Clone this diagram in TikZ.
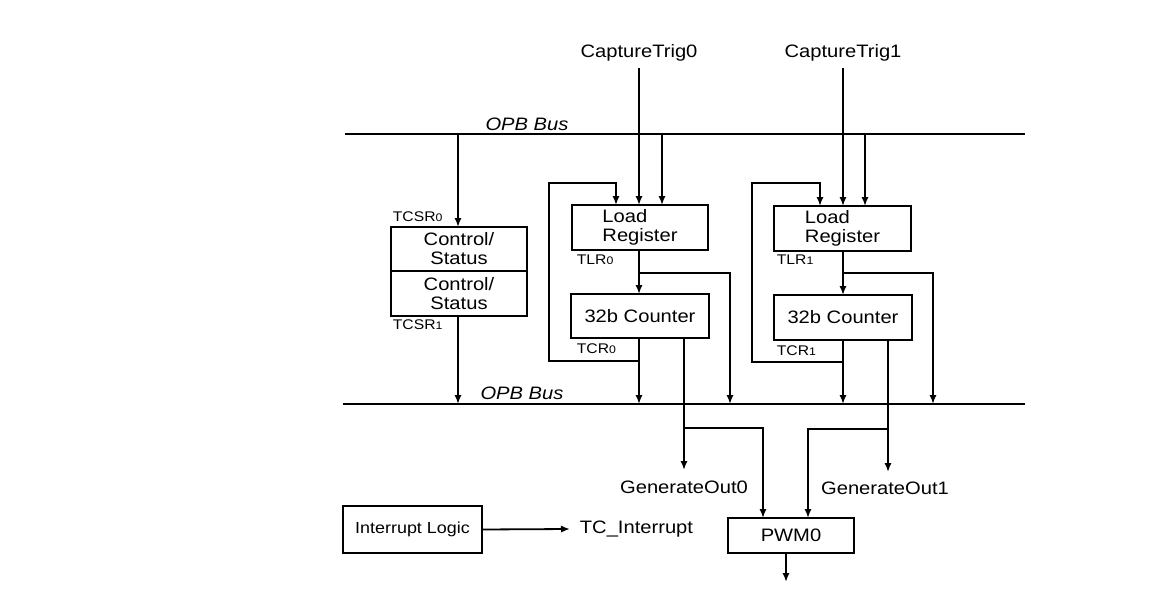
\documentclass[tikz,border=0pt]{standalone}
\usepackage{fontspec}
\setmainfont{Liberation Sans}[FakeStretch=1.12]
\usetikzlibrary{arrows.meta}
\newcommand\sdig[1]{{\fontsize{5.5}{6}\selectfont #1}}
\begin{document}
\begin{tikzpicture}[x=0.5pt,y=-0.5pt,
  line width=0.9pt,
  arr/.style={-{Latex[length=4.5pt,width=3.6pt]}},
  blk/.style={draw, rectangle, inner sep=0pt, outer sep=0pt, font=\fontsize{9}{9.5}\selectfont, align=center},
  lbl/.style={inner sep=0pt, font=\fontsize{9}{10}\selectfont},
  reg/.style={inner sep=0pt, anchor=west, font=\fontsize{7}{8}\selectfont},
  busline/.style={line width=1.1pt}]
\useasboundingbox[fill=white] (0,0) rectangle (1152,589);

% buses
\coordinate (bus1L) at (345,134);
\coordinate (bus1R) at (1025,134);
\coordinate (bus2L) at (343,404);
\coordinate (bus2R) at (1025,404);
\draw[busline] (bus1L) -- (bus1R);
\draw[busline] (bus2L) -- (bus2R);
\node[lbl, font=\fontsize{9}{10}\itshape] (opb1) at (527,124) {OPB Bus};
\node[lbl, font=\fontsize{9}{10}\itshape] (opb2) at (522,393) {OPB Bus};

% capture triggers
\node[lbl] (ct0) at (639,53) {CaptureTrig0};
\node[lbl] (ct1) at (843,53) {CaptureTrig1};

% control / status
\node[blk, minimum width=68pt, minimum height=22pt] (cs0) at (459,249) {Control/\\Status};
\node[blk, minimum width=68pt, minimum height=22.5pt, anchor=north] (cs1) at (cs0.south) {Control/\\Status};
\node[reg] (tcsr0) at (392,217) {TCSR\sdig{0}};
\node[reg] (tcsr1) at (392,325) {TCSR\sdig{1}};

% timer 0
\node[blk, minimum width=68pt, minimum height=22.5pt, align=left] (lr0) at (640,227.5) {Load\\Register};
\node[blk, minimum width=69pt, minimum height=22pt] (cnt0) at (640,316) {32b Counter};
\node[reg] (tlr0) at (576,260) {TLR\sdig{0}};
\node[reg] (tcr0) at (576,349) {TCR\sdig{0}};

% timer 1
\node[blk, minimum width=68.5pt, minimum height=22.5pt, align=left] (lr1) at (842.5,228.5) {Load\\Register};
\node[blk, minimum width=69pt, minimum height=22.5pt] (cnt1) at (843,317.5) {32b Counter};
\node[reg] (tlr1) at (776,260) {TLR\sdig{1}};
\node[reg] (tcr1) at (776,351) {TCR\sdig{1}};

% outputs
\node[lbl] (go0) at (684,487) {GenerateOut0};
\node[lbl] (go1) at (885,488) {GenerateOut1};
\node[blk, minimum width=63pt, minimum height=17.5pt] (pwm) at (791,535.5) {PWM0};
\node[blk, minimum width=69.5pt, minimum height=23.5pt, font=\fontsize{8}{9}\selectfont] (il) at (412.5,529.5) {Interrupt Logic};
\node[lbl, anchor=west] (tci) at (579,529) {TC\_Interrupt};
\coordinate (pwmout) at (786,582);

% junction coordinates
\coordinate (b1a) at (458,134);
\coordinate (b1b) at (662,134);
\coordinate (b1c) at (865,134);
\coordinate (fb0) at (639,361);
\coordinate (fb1) at (843,362);
\coordinate (j0) at (639,273);
\coordinate (j1) at (843,273);
\coordinate (g0) at (684,338);
\coordinate (g1) at (888,340);
\coordinate (p0) at (684,428);
\coordinate (p1) at (888,429);

% control/status connections
\draw[arr] (b1a) -- (b1a |- cs0.north);
\draw[arr] (cs1.south -| b1a) -- (b1a |- bus2L);

% timer 0 connections
\draw[arr] (ct0.south) ++(0,6) -- (ct0 |- lr0.north);
\draw[arr] (b1b) -- (b1b |- lr0.north);
\draw[arr] (fb0) -- (549,361) -- (549,183) -- (616,183) -- (616,205);
\draw[arr] (lr0.south -| j0) -- (j0 |- cnt0.north);
\draw[arr] (j0) -- (730,273) -- (730,404);
\draw[arr] (cnt0.south -| j0) -- (j0 |- bus2L);
\draw[arr] (g0) -- (684,470);
\draw[arr] (p0) -- (763,428) -- (763 ,518);

% timer 1 connections
\draw[arr] (ct1.south) ++(0,6) -- (ct1 |- lr1.north);
\draw[arr] (b1c) -- (b1c |- lr1.north);
\draw[arr] (fb1) -- (752,362) -- (752,183) -- (820,183) -- (820,206);
\draw[arr] (lr1.south -| j1) -- (j1 |- cnt1.north);
\draw[arr] (j1) -- (933,273) -- (933,404);
\draw[arr] (cnt1.south -| j1) -- (j1 |- bus2L);
\draw[arr] (g1) -- (888,472);
\draw[arr] (p1) -- (808,429) -- (808,518);

% interrupt and pwm output
\draw[arr] (il.east) -- (570,529);
\draw[arr] (pwm.south -| pwmout) -- (pwmout);
\end{tikzpicture}
\end{document}
